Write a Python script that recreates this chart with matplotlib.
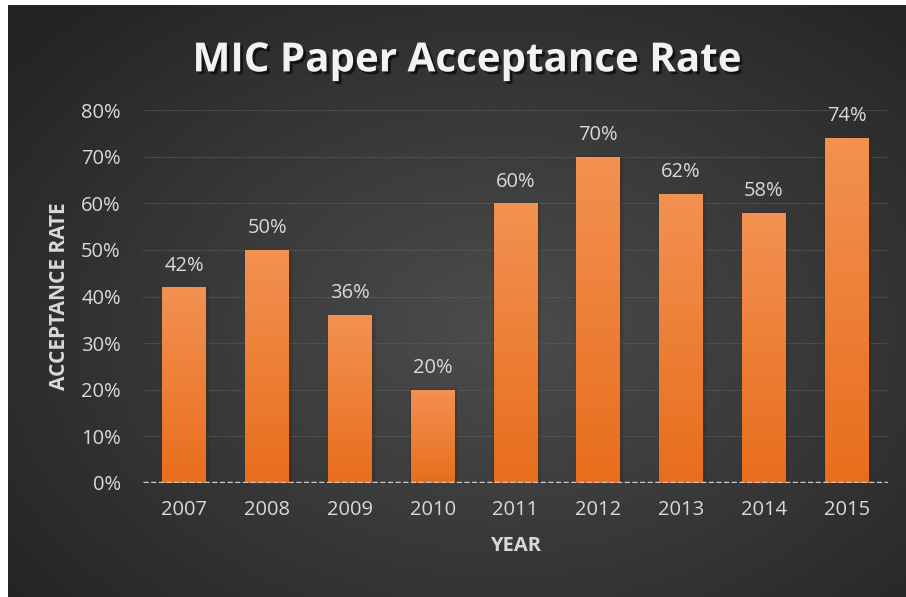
import numpy as np
import matplotlib.pyplot as plt
import matplotlib.patheffects as pe

# Data
tahun = ["2007", "2008", "2009", "2010", "2011", "2012", "2013", "2014", "2015"]
rate = [0.42, 0.50, 0.36, 0.20, 0.60, 0.70, 0.62, 0.58, 0.74]
yticks = [0.0, 0.1, 0.2, 0.3, 0.4, 0.5, 0.6, 0.7, 0.8]

plt.rcParams["font.family"] = ["Open Sans", "DejaVu Sans"]

fig = plt.figure(figsize=(9.06, 5.97), dpi=100)
fig.patch.set_facecolor("white")

# latar radial
bg = fig.add_axes([8 / 906, 0, 898 / 906, 592 / 597])
bg.set_axis_off()
yy, xx = np.mgrid[0:1:300j, 0:1:450j]
r = np.sqrt(((xx - 0.55) / 0.75) ** 2 + ((yy - 0.45) / 0.8) ** 2)
val = np.clip(0.30 - 0.17 * r, 0.14, 0.30)
img = np.dstack([val, val, val])
bg.imshow(img, extent=[0, 1, 0, 1], aspect="auto", origin="lower")
bg.set_xlim(0, 1)
bg.set_ylim(0, 1)

ax = fig.add_axes([143 / 906, 114 / 597, 745 / 906, 373 / 597])
ax.patch.set_alpha(0)
x = np.arange(len(tahun))
w = 0.53

# gradien batang
grad = np.linspace(0, 1, 100).reshape(-1, 1)
top = np.array([0.95, 0.57, 0.32])
bot = np.array([0.91, 0.43, 0.11])
gimg = bot[None, None, :] + (top - bot)[None, None, :] * grad[:, :, None]

bars = ax.bar(x, rate, width=w, color="#ee7a2c", zorder=3, linewidth=0,
              path_effects=[pe.SimpleLineShadow(offset=(0.5, -0.5), shadow_color="#3a1c08", alpha=0.25, linewidth=2.5), pe.Normal()])
for b, v in zip(bars, rate):
    im = ax.imshow(gimg, extent=[b.get_x(), b.get_x() + b.get_width(), 0, v],
                   origin="lower", aspect="auto", zorder=4)
    im.set_clip_path(b)
    ax.text(b.get_x() + b.get_width() / 2, v + 0.025, f"{v*100:.0f}%",
            ha="center", va="bottom", color="#d9d9d9", fontsize=14.5, zorder=5)

ax.set_xlim(-0.5, len(tahun) - 0.5)
ax.set_ylim(0, 0.8)
ax.set_yticks(yticks)
ax.set_yticklabels([f"{t*100:.0f}%" for t in yticks])
ax.set_xticks(x)
ax.set_xticklabels(tahun)
ax.tick_params(colors="#d9d9d9", labelsize=14.5, length=0)
ax.tick_params(axis="y", pad=16)
ax.tick_params(axis="x", pad=12)
for s in ax.spines.values():
    s.set_visible(False)
ax.grid(axis="y", color="#5e5e5e", linestyle=(0, (1, 1)), linewidth=0.8, zorder=1)
ax.axhline(0, color="#c8c8c8", linestyle=(0, (1.5, 0.7)), linewidth=2.5, zorder=6)

ax.set_ylabel("ACCEPTANCE RATE", color="#d9d9d9", fontsize=15, fontweight="bold", labelpad=8)
ax.set_xlabel("YEAR", color="#d9d9d9", fontsize=14.5, fontweight="bold", labelpad=12)

fig.text(0.515, 0.898, "MIC Paper Acceptance Rate", ha="center", va="center",
         fontsize=29, fontweight="bold", color="#f2f2f2",
         path_effects=[pe.withSimplePatchShadow(offset=(2, -2), shadow_rgbFace="black", alpha=0.6)])

fig.savefig("out.png", dpi=100, facecolor=fig.get_facecolor())
